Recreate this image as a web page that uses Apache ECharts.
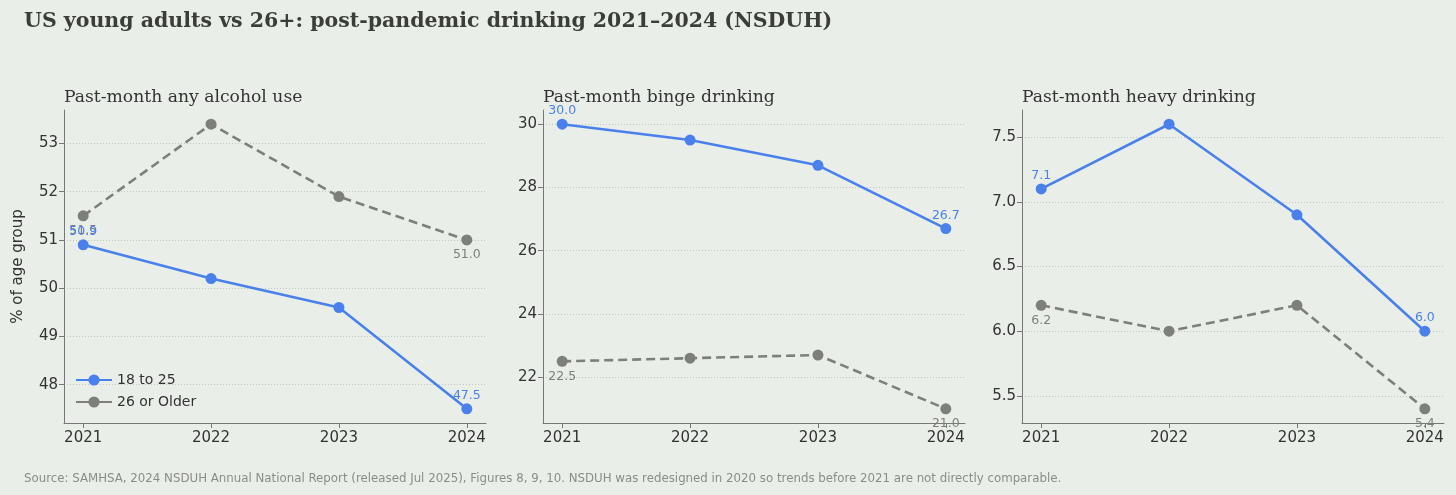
<!DOCTYPE html>
<html>
<head>
<meta charset="utf-8">
<script src="https://cdn.jsdelivr.net/npm/echarts@6/dist/echarts.min.js"></script>
<style>
html, body { margin: 0; padding: 0; background: #e9efe8; }
#chart { width: 1456px; height: 495px; }
</style>
</head>
<body>
<div id="chart"></div>
<script>
var years = [2021, 2022, 2023, 2024];
var panelTitles = ['Past-month any alcohol use', 'Past-month binge drinking', 'Past-month heavy drinking'];
var seriesNames = ['18 to 25', '26 or Older'];

var anyYoung = [50.9, 50.2, 49.6, 47.5];
var anyOlder = [51.5, 53.4, 51.9, 51.0];
var bingeYoung = [30.0, 29.5, 28.7, 26.7];
var bingeOlder = [22.5, 22.6, 22.7, 21.0];
var heavyYoung = [7.1, 7.6, 6.9, 6.0];
var heavyOlder = [6.2, 6.0, 6.2, 5.4];

var yTicks1 = [48, 49, 50, 51, 52, 53];
var yTicks2 = [22, 24, 26, 28, 30];
var yTicks3 = [5.5, 6.0, 6.5, 7.0, 7.5];

var BLUE = '#4a80ec';
var GRAY = '#7d7f7b';

var panels = [
    {young: anyYoung, older: anyOlder, ticks: yTicks1, digits: 0},
    {young: bingeYoung, older: bingeOlder, ticks: yTicks2, digits: 0},
    {young: heavyYoung, older: heavyOlder, ticks: yTicks3, digits: 1}
];
var lefts = [64, 543, 1022];
var width = 422;

// matplotlib style 5% padding on each side
function pad(arr1, arr2) {
    var all = arr1.concat(arr2);
    var lo = Math.min.apply(null, all), hi = Math.max.apply(null, all);
    var m = (hi - lo) * 0.05;
    return [lo - m, hi + m];
}

var grids = [], xAxes = [], yAxes = [], series = [], titles = [];

titles.push({
    text: 'US young adults vs 26+: post-pandemic drinking 2021–2024 (NSDUH)',
    left: 19, top: 6,
    textStyle: {fontFamily: 'DejaVu Serif', fontWeight: 'bold', fontSize: 20.5, color: '#3a3d38'}
});
titles.push({
    text: 'Source: SAMHSA, 2024 NSDUH Annual National Report (released Jul 2025), Figures 8, 9, 10. NSDUH was redesigned in 2020 so trends before 2021 are not directly comparable.',
    left: 19, top: 468,
    textStyle: {fontFamily: 'DejaVu Sans', fontWeight: 'normal', fontSize: 11.8, color: '#8a8c88'}
});

panels.forEach(function (p, k) {
    var ext = pad(p.young, p.older);
    titles.push({
        text: panelTitles[k],
        left: lefts[k] - 5, top: 84,
        textStyle: {fontFamily: 'DejaVu Serif', fontWeight: 'normal', fontSize: 17.2, color: '#333'}
    });
    grids.push({left: lefts[k], width: width, top: 110, bottom: 72});
    xAxes.push({
        type: 'value', gridIndex: k, min: 2020.85, max: 2024.15,
        axisLine: {show: true, lineStyle: {color: '#777', width: 1}},
        axisTick: {show: true, length: 5, lineStyle: {color: '#777'}, customValues: years},
        axisLabel: {customValues: years, color: '#333', fontFamily: 'DejaVu Sans', fontSize: 15, margin: 8,
            formatter: function (v) { return String(v); }},
        splitLine: {show: false}
    });
    yAxes.push({
        type: 'value', gridIndex: k, min: ext[0], max: ext[1],
        name: k === 0 ? '% of age group' : '',
        nameLocation: 'middle', nameGap: 38, nameRotate: 90,
        nameTextStyle: {fontFamily: 'DejaVu Sans', fontSize: 15, color: '#333'},
        axisLine: {show: true, lineStyle: {color: '#777', width: 1}},
        axisTick: {show: true, length: 5, lineStyle: {color: '#777'}, customValues: p.ticks},
        axisLabel: {customValues: p.ticks, color: '#333', fontFamily: 'DejaVu Sans', fontSize: 15, margin: 6,
            formatter: (function (d) { return function (v) { return v.toFixed(d); }; })(p.digits)},
        splitLine: {show: true, lineStyle: {color: '#c2c6c0', type: [1, 2], width: 1}}
    });
    [[p.young, BLUE, 'solid', 'top', 1], [p.older, GRAY, [9, 5], 'bottom', 3]].forEach(function (s, j) {
        var vals = s[0];
        var data = vals.map(function (v, i) {
            var item = {value: [years[i], v]};
            if (i === 0 || i === vals.length - 1) {
                item.label = {show: true};
            }
            return item;
        });
        series.push({
            name: seriesNames[j], type: 'line', xAxisIndex: k, yAxisIndex: k,
            data: data, symbol: 'circle', symbolSize: 11,
            lineStyle: {color: s[1], width: 2.6, type: s[2]},
            itemStyle: {color: s[1]},
            label: {show: false, position: s[3], distance: s[4], color: s[1], fontFamily: 'DejaVu Sans', fontSize: 12.5,
                formatter: function (prm) { return prm.value[1].toFixed(1); }},
            emphasis: {disabled: true},
            z: j === 0 ? 3 : 2
        });
    });
});

var chart = echarts.init(document.getElementById('chart'));
chart.setOption({
    backgroundColor: '#e9efe8',
    animation: false,
    title: titles,
    legend: {
        data: seriesNames, orient: 'vertical', left: 70, top: 368,
        itemWidth: 36, itemHeight: 14, itemGap: 8,
        lineStyle: {type: 'solid'},
        textStyle: {fontFamily: 'DejaVu Sans', fontSize: 14, color: '#333'}
    },
    grid: grids,
    xAxis: xAxes,
    yAxis: yAxes,
    series: series
});
</script>
</body>
</html>
